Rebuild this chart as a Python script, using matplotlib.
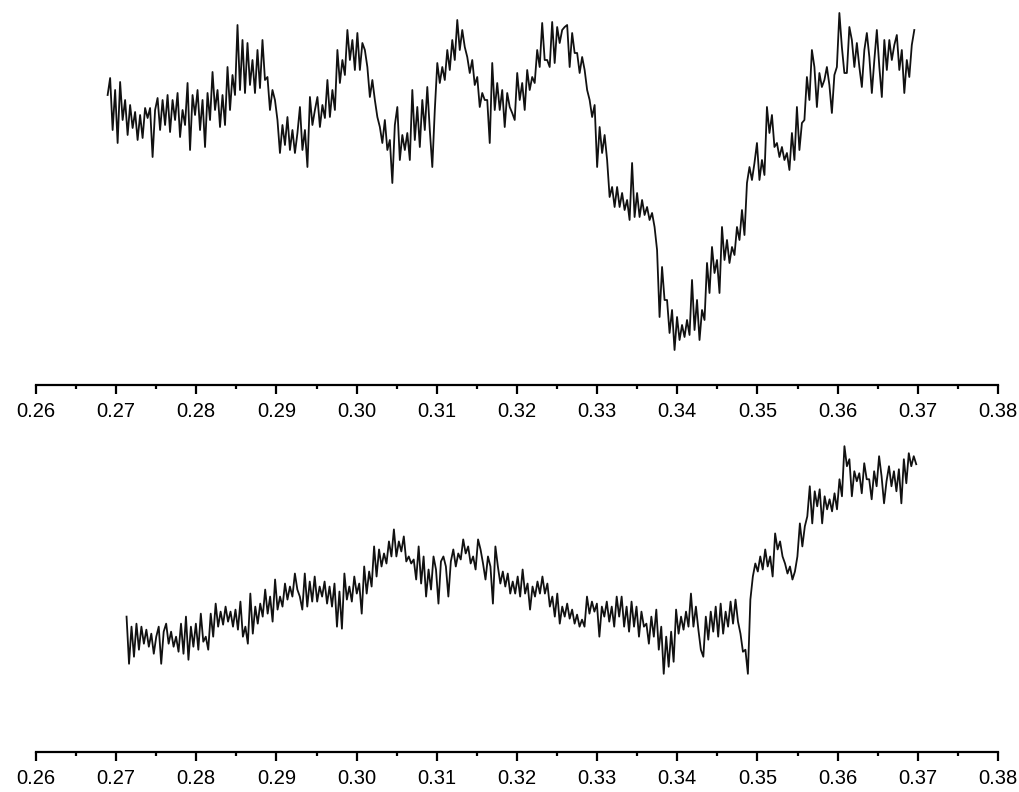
import matplotlib
matplotlib.use("Agg")
import matplotlib.pyplot as plt
from matplotlib.ticker import MultipleLocator, FormatStrFormatter
import numpy as np

# field range of each recorded trace
top_start, top_stop = 0.26894, 0.36957
bot_start, bot_stop = 0.27130, 0.36981

# upper trace, signal (arbitrary units)
top_signal = [
    305, 322, 270, 310, 257, 318, 280, 300, 265, 295, 272, 288, 260, 285, 262, 292,
    282, 292, 243, 290, 302, 270, 300, 275, 305, 268, 300, 280, 307, 263, 290, 275,
    317, 250, 305, 285, 310, 270, 300, 253, 307, 280, 328, 290, 310, 273, 305, 275,
    333, 290, 325, 305, 375, 310, 360, 307, 357, 315, 340, 307, 350, 312, 360, 320,
    323, 290, 310, 300, 280, 247, 275, 255, 283, 250, 270, 247, 267, 293, 250, 270,
    233, 303, 275, 290, 303, 273, 295, 282, 320, 283, 310, 290, 350, 317, 340, 325,
    370, 340, 360, 330, 367, 330, 357, 350, 333, 303, 320, 300, 283, 273, 257, 280,
    250, 260, 217, 275, 293, 240, 265, 250, 267, 240, 310, 260, 293, 253, 300, 270,
    313, 270, 233, 290, 337, 317, 333, 320, 350, 330, 360, 340, 380, 350, 370, 353,
    343, 327, 340, 315, 323, 293, 307, 300, 300, 257, 337, 290, 317, 290, 310, 273,
    307, 293, 287, 280, 327, 300, 317, 290, 330, 310, 323, 317, 350, 333, 377, 340,
    340, 333, 378, 337, 373, 357, 370, 373, 375, 333, 367, 347, 347, 327, 343, 330,
    310, 300, 283, 295, 233, 273, 247, 265, 240, 203, 213, 193, 213, 193, 207, 190,
    200, 180, 237, 183, 207, 183, 200, 185, 193, 180, 187, 173, 150, 83, 133, 100,
    100, 67, 90, 50, 83, 60, 75, 63, 80, 65, 120, 70, 100, 60, 90, 80,
    137, 107, 153, 127, 140, 107, 173, 140, 160, 137, 153, 145, 173, 160, 190, 165,
    217, 233, 220, 237, 257, 220, 240, 225, 293, 267, 285, 253, 257, 243, 253, 240,
    247, 230, 267, 240, 293, 250, 277, 280, 323, 300, 350, 333, 293, 327, 313, 320,
    333, 315, 287, 325, 333, 387, 353, 327, 327, 373, 360, 333, 357, 333, 313, 350,
    367, 343, 307, 340, 370, 333, 303, 360, 330, 360, 340, 355, 365, 330, 350, 307,
    340, 323, 355, 370,
]

# lower trace, signal (arbitrary units)
bot_signal = [
    150, 103, 140, 110, 143, 117, 140, 123, 137, 120, 133, 113, 130, 140, 103, 135,
    143, 123, 135, 120, 130, 115, 143, 113, 150, 107, 140, 120, 143, 117, 153, 125,
    130, 117, 153, 130, 163, 140, 155, 142, 160, 145, 155, 140, 157, 137, 165, 130,
    140, 123, 173, 133, 160, 143, 163, 150, 177, 153, 170, 145, 187, 157, 170, 160,
    183, 167, 180, 170, 193, 177, 170, 157, 193, 160, 185, 165, 190, 165, 180, 170,
    185, 163, 180, 160, 183, 140, 175, 138, 193, 167, 180, 165, 190, 173, 183, 153,
    200, 173, 195, 180, 220, 190, 217, 200, 213, 203, 225, 210, 237, 210, 225, 215,
    230, 205, 210, 203, 207, 187, 220, 183, 210, 170, 197, 177, 210, 197, 163, 205,
    210, 200, 170, 205, 217, 200, 213, 207, 227, 213, 220, 203, 210, 197, 227, 217,
    203, 187, 210, 200, 163, 220, 200, 183, 195, 180, 193, 173, 185, 173, 190, 170,
    197, 173, 183, 157, 180, 170, 185, 173, 190, 173, 183, 160, 170, 150, 173, 143,
    160, 150, 163, 148, 157, 143, 152, 140, 147, 140, 170, 153, 165, 155, 163, 130,
    160, 150, 165, 145, 160, 140, 170, 150, 170, 140, 160, 135, 165, 140, 160, 130,
    155, 140, 143, 123, 150, 130, 157, 117, 140, 93, 130, 100, 135, 105, 157, 133,
    150, 137, 155, 140, 173, 140, 160, 137, 117, 110, 150, 127, 155, 135, 160, 130,
    163, 133, 155, 140, 165, 143, 167, 145, 133, 115, 117, 93, 167, 190, 203, 195,
    210, 197, 217, 200, 210, 190, 233, 217, 225, 210, 203, 193, 200, 187, 195, 210,
    243, 220, 240, 250, 280, 243, 275, 260, 277, 243, 270, 257, 267, 255, 273, 257,
    287, 270, 320, 300, 307, 270, 295, 285, 293, 273, 303, 287, 287, 267, 295, 280,
    310, 290, 263, 285, 300, 280, 295, 275, 297, 263, 307, 283, 313, 300, 310, 302,
]

tick_font = "Liberation Sans"

fig = plt.figure(figsize=(10.19, 7.92), dpi=100)
ax_top = fig.add_axes([0.0353, 0.5139, 0.9440, 0.4861])
ax_bot = fig.add_axes([0.0353, 0.0505, 0.9440, 0.4444])

panels = [
    (ax_top, top_start, top_stop, top_signal, (15, 400)),
    (ax_bot, bot_start, bot_stop, bot_signal, (15, 366)),
]

for ax, x0, x1, sig, ylim in panels:
    field = np.linspace(x0, x1, len(sig))
    ax.plot(field, sig, color="#111111", lw=1.3)
    ax.set_xlim(0.26, 0.38)
    ax.set_ylim(*ylim)
    for s in ("left", "right", "top"):
        ax.spines[s].set_visible(False)
    ax.spines["bottom"].set_linewidth(1.6)
    ax.set_yticks([])
    ax.xaxis.set_major_locator(MultipleLocator(0.01))
    ax.xaxis.set_minor_locator(MultipleLocator(0.005))
    ax.xaxis.set_major_formatter(FormatStrFormatter("%.2f"))
    ax.tick_params(axis="x", which="major", length=6.5, width=1.6, pad=6,
                   labelsize=14.5, direction="out")
    ax.tick_params(axis="x", which="minor", length=3.2, width=1.6, direction="out")
    for lab in ax.get_xticklabels():
        lab.set_family(tick_font)
    ax.patch.set_visible(False)

fig.savefig("out.png", dpi=100)
